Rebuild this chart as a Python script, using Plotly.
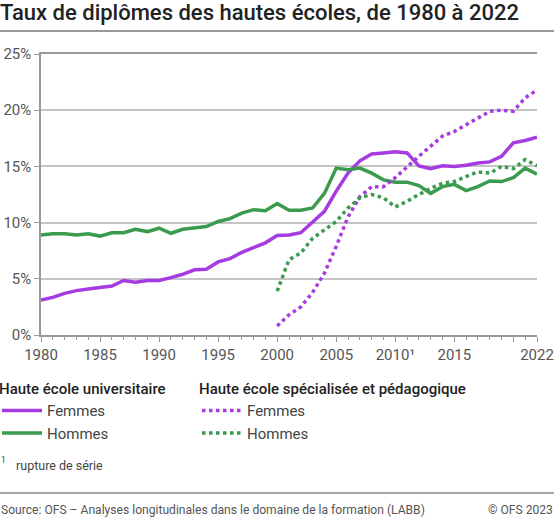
import plotly.graph_objects as go

years = list(range(1980, 2023))
years_hes = list(range(2000, 2023))

# Haute école universitaire
uni_femmes = [3.1, 3.35, 3.7, 3.95, 4.1, 4.2, 4.35, 4.85, 4.7, 4.85, 4.85, 5.1, 5.4, 5.8, 5.85,
              6.5, 6.8, 7.35, 7.8, 8.2, 8.85, 8.9, 9.1, 10.0, 11.0, 12.8, 14.4, 15.5, 16.1, 16.2,
              16.3, 16.2, 15.05, 14.8, 15.05, 15.0, 15.1, 15.3, 15.4, 15.9, 17.1, 17.3, 17.6]
uni_hommes = [8.9, 9.0, 9.0, 8.9, 9.0, 8.8, 9.1, 9.1, 9.4, 9.2, 9.5, 9.05, 9.4, 9.55, 9.65,
              10.1, 10.35, 10.85, 11.15, 11.05, 11.7, 11.1, 11.1, 11.3, 12.6, 14.85, 14.7, 14.85, 14.4, 13.8,
              13.6, 13.6, 13.3, 12.6, 13.2, 13.4, 12.85, 13.2, 13.7, 13.65, 14.0, 14.85, 14.3]

# Haute école spécialisée et pédagogique
hes_femmes = [0.8, 1.8, 2.5, 3.8, 5.5, 7.9, 10.5, 12.3, 13.2, 13.2, 14.0, 15.0, 15.9, 16.8, 17.7,
              18.1, 18.7, 19.3, 19.9, 20.0, 19.9, 21.1, 21.8]
hes_hommes = [3.9, 6.7, 7.3, 8.6, 9.35, 10.1, 11.3, 12.2, 12.5, 12.2, 11.4, 11.9, 12.5, 13.05, 13.5,
              13.65, 14.1, 14.5, 14.4, 15.0, 14.8, 15.6, 15.05]

tick_years = [1980, 1985, 1990, 1995, 2000, 2005, 2010, 2015, 2020, 2022]
tick_labels = ["1980", "1985", "1990", "1995", "2000", "2005", "2010¹", "2015", "", "2022"]

purple = "#a53be0"
green = "#3a9a4e"
font = "Roboto"

fig = go.Figure()
fig.add_trace(go.Scatter(x=years, y=uni_femmes, mode="lines", name="Femmes",
                         line=dict(color=purple, width=3.5), legend="legend"))
fig.add_trace(go.Scatter(x=years, y=uni_hommes, mode="lines", name="Hommes",
                         line=dict(color=green, width=3.5), legend="legend"))
fig.add_trace(go.Scatter(x=years_hes, y=hes_femmes, mode="lines", name="Femmes",
                         line=dict(color=purple, width=3.5, dash="dot"), legend="legend2"))
fig.add_trace(go.Scatter(x=years_hes, y=hes_hommes, mode="lines", name="Hommes",
                         line=dict(color=green, width=3.5, dash="dot"), legend="legend2"))

head_font = dict(family=font, size=15, weight=500, color="#222")
legend_style = dict(
    xref="paper", yref="container", xanchor="left", yanchor="top",
    bgcolor="rgba(0,0,0,0)", font=dict(family=font, size=15, color="#444"),
    tracegroupgap=0, itemwidth=40,
)
fig.update_layout(
    width=554, height=519,
    margin=dict(l=41, r=17, t=54, b=184, autoexpand=False),
    paper_bgcolor="white", plot_bgcolor="white",
    font=dict(family=font, size=15, color="#555"),
    title=dict(text="Taux de diplômes des hautes écoles, de 1980 à 2022",
               x=0, xref="container", xanchor="left", y=0.977, yanchor="middle",
               font=dict(family=font, size=22, weight=500, color="#222")),
    legend=dict(x=-44 / 496, y=0.278, title=dict(text="Haute école universitaire", font=head_font),
                **legend_style),
    legend2=dict(x=156 / 496, y=0.278,
                 title=dict(text="Haute école spécialisée et pédagogique", font=head_font),
                 **legend_style),
    xaxis=dict(range=[1980, 2022], tickvals=tick_years, ticktext=tick_labels,
               ticks="outside", ticklen=5, tickcolor="#999", showgrid=False,
               showline=True, linecolor="#999", linewidth=1.5, mirror=True,
               minor=dict(dtick=1, tick0=1980, ticks="outside", ticklen=3, tickcolor="#999"),
               tickfont=dict(size=15, color="#555"), fixedrange=True),
    yaxis=dict(range=[0, 25], dtick=5, ticksuffix="%", ticks="outside", ticklen=5,
               tickcolor="#999", showgrid=True, gridcolor="#c4c4c4", gridwidth=1.5,
               showline=True, linecolor="#999", linewidth=1.5, zeroline=False,
               tickfont=dict(size=15, color="#555"), fixedrange=True),
    showlegend=True,
)

# title rule and footer rule
fig.add_shape(type="line", xref="paper", yref="paper", x0=-41 / 496, x1=1 + 17 / 496,
              y0=1 + 23 / 281, y1=1 + 23 / 281, line=dict(color="#333", width=1.2))
fig.add_shape(type="line", xref="paper", yref="paper", x0=-41 / 496, x1=1 + 17 / 496,
              y0=-158 / 281, y1=-158 / 281, line=dict(color="#888", width=1.5))

fig.add_annotation(text="<sup>1</sup>", xref="paper", yref="paper", x=-42 / 496, y=-125 / 281,
                   xanchor="left", yanchor="middle", showarrow=False,
                   font=dict(family=font, size=12, color="#444"))
fig.add_annotation(text="rupture de série", xref="paper", yref="paper", x=-27 / 496, y=-130 / 281,
                   xanchor="left", yanchor="middle", showarrow=False,
                   font=dict(family=font, size=12.5, color="#444"))
fig.add_annotation(text="Source: OFS – Analyses longitudinales dans le domaine de la formation (LABB)",
                   xref="paper", yref="paper", x=-42 / 496, y=-175 / 281,
                   xanchor="left", yanchor="middle", showarrow=False,
                   font=dict(family=font, size=12.1, color="#555"))
fig.add_annotation(text="© OFS 2023", xref="paper", yref="paper", x=1 + 18 / 496, y=-175 / 281,
                   xanchor="right", yanchor="middle", showarrow=False,
                   font=dict(family=font, size=12.1, color="#555"))

fig.write_html("out.html", config={"displayModeBar": False},
               post_script="document.body.style.margin='0';")
